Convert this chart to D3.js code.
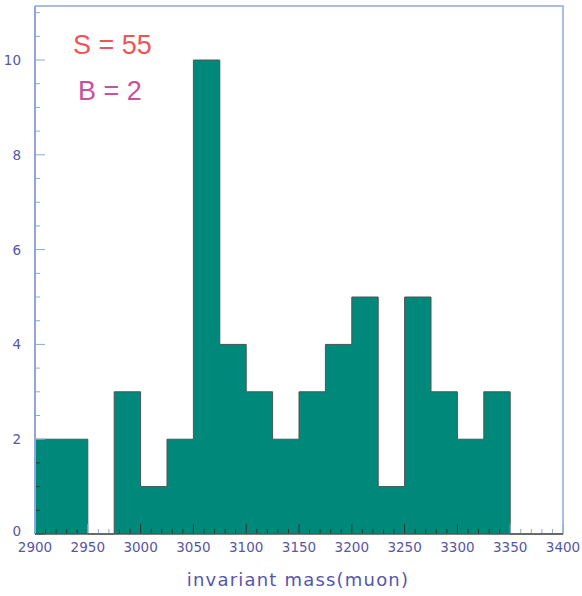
<!DOCTYPE html>
<html>
<head>
<meta charset="utf-8">
<script src="https://cdn.jsdelivr.net/npm/d3@7"></script>
<style>
  body { margin: 0; background: #fff; }
  svg { font-family: "DejaVu Sans", sans-serif; }
</style>
</head>
<body>
<div id="chart"></div>
<script>
// histogram bins (lower edges) and counts
const binEdges = [2900, 2925, 2950, 2975, 3000, 3025, 3050, 3075, 3100, 3125,
                  3150, 3175, 3200, 3225, 3250, 3275, 3300, 3325, 3350, 3375];
const counts = [2, 2, 0, 3, 1, 2, 10, 4, 3, 2, 3, 4, 5, 1, 5, 3, 2, 3, 0, 0];
const binWidth = 25;
const xTicks = [2900, 2950, 3000, 3050, 3100, 3150, 3200, 3250, 3300, 3350, 3400];
const yTicks = [0, 2, 4, 6, 8, 10];
const signalText = "S = 55";
const bgText = "B = 2";
const xTitle = "invariant mass(muon)";

const width = 582, height = 596;
const margin = { left: 35, right: 19, top: 6, bottom: 62 };

const svg = d3.select("#chart").append("svg")
    .attr("width", width)
    .attr("height", height);

const x = d3.scaleLinear().domain([2900, 3400]).range([margin.left, width - margin.right]);
const y = d3.scaleLinear().domain([0, 11.14]).range([height - margin.bottom, margin.top]);

const axisCol = "#8fa8d8";
const labelCol = "#5656a8";

// histogram as one step contour
const pts = [[2900, 0]].concat(binEdges.map((e, i) => [e, counts[i]]), [[3400, 0]]);
svg.append("path")
    .datum(pts)
    .attr("d", d3.area()
        .curve(d3.curveStepAfter)
        .x(d => x(d[0]))
        .y0(y(0))
        .y1(d => y(d[1])))
    .attr("fill", "#00897b");
svg.append("path")
    .datum(pts)
    .attr("d", d3.line()
        .curve(d3.curveStepAfter)
        .x(d => x(d[0]))
        .y(d => y(d[1])))
    .attr("fill", "none")
    .attr("stroke", "#4a5552")
    .attr("stroke-width", 1);

// frame (top + right)
svg.append("path")
    .attr("d", `M${x(2900)},${y(11.14)} H${x(3400)} V${y(0)}`)
    .attr("fill", "none")
    .attr("stroke", axisCol)
    .attr("stroke-width", 1.5);

// y ticks: inward, minor every 0.5
const yMinor = d3.range(0, 11.01, 0.5);
svg.append("g").selectAll("line")
    .data(yMinor)
    .enter()
    .append("line")
    .attr("x1", x(2900))
    .attr("x2", d => x(2900) + (d % 2 === 0 ? 10 : 5))
    .attr("y1", d => y(d))
    .attr("y2", d => y(d))
    .attr("stroke", d => y(d) > y(counts[0]) ? "#333" : axisCol)
    .attr("stroke-width", 1);

// x ticks: inward, minor every 10
const xMinor = d3.range(2900, 3401, 10);
svg.append("g").selectAll("line")
    .data(xMinor)
    .enter()
    .append("line")
    .attr("x1", d => x(d))
    .attr("x2", d => x(d))
    .attr("y1", y(0))
    .attr("y2", d => y(0) - (d % 50 === 0 ? 10 : 5))
    .attr("stroke", d => {
        const i = Math.floor((d - 2900) / binWidth);
        return (i < counts.length && counts[i] > 0) ? "#333" : axisCol;
    })
    .attr("stroke-width", 1);

// left and bottom axis lines
svg.append("line")
    .attr("x1", x(2900)).attr("x2", x(2900))
    .attr("y1", y(0)).attr("y2", y(11.14))
    .attr("stroke", axisCol).attr("stroke-width", 2);
svg.append("line")
    .attr("x1", x(2900)).attr("x2", x(3400))
    .attr("y1", y(0)).attr("y2", y(0))
    .attr("stroke", "#555").attr("stroke-width", 1.5);

// tick labels
svg.append("g").selectAll("text")
    .data(xTicks)
    .enter()
    .append("text")
    .attr("x", d => x(d))
    .attr("y", y(0) + 18)
    .attr("text-anchor", "middle")
    .attr("font-size", 13.5)
    .attr("fill", labelCol)
    .text(d => d);

svg.append("g").selectAll("text")
    .data(yTicks)
    .enter()
    .append("text")
    .attr("x", 21)
    .attr("y", d => y(d) + (d === 0 ? 2 : 5))
    .attr("text-anchor", "end")
    .attr("font-size", 13.5)
    .attr("fill", labelCol)
    .text(d => d);

// axis title
svg.append("text")
    .attr("x", 298)
    .attr("y", 586)
    .attr("text-anchor", "middle")
    .attr("font-size", 18)
    .attr("letter-spacing", 1.2)
    .attr("fill", "#5656a8")
    .text(xTitle);

// S and B annotations
svg.append("text")
    .attr("x", 73).attr("y", 54)
    .attr("font-family", "Liberation Sans, Arial, sans-serif")
    .attr("font-size", 27)
    .attr("fill", "#f05555")
    .text(signalText);
svg.append("text")
    .attr("x", 78).attr("y", 100)
    .attr("font-family", "Liberation Sans, Arial, sans-serif")
    .attr("font-size", 27)
    .attr("fill", "#c8509c")
    .text(bgText);
</script>
</body>
</html>
